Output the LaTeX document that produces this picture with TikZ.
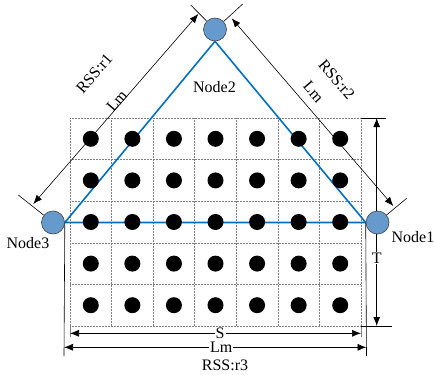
\documentclass[tikz,border=0pt]{standalone}
\usepackage{fontspec}
\setmainfont{Liberation Serif}
\usetikzlibrary{arrows.meta,backgrounds}
\definecolor{nodefill}{RGB}{102,153,204}
\definecolor{nodeedge}{RGB}{70,70,70}
\definecolor{triblue}{RGB}{0,112,192}
\begin{document}
\begin{tikzpicture}[x=1pt,y=-1pt,
  sensor/.style={circle, draw=nodeedge, fill=nodefill, line width=0.6pt, minimum size=23pt, inner sep=0pt},
  lbl/.style={font=\fontsize{16}{19}\selectfont, inner sep=1pt},
  gridline/.style={gray, densely dotted, line width=0.5pt},
  dotnode/.style={circle, fill=black, minimum size=16pt, inner sep=0pt},
  dim/.style={{Latex[length=9pt,width=7pt]}-{Latex[length=9pt,width=7pt]}, line width=0.7pt},
  ext/.style={line width=0.6pt},
  tri/.style={draw=triblue, line width=1.6pt, line join=miter}
]
\useasboundingbox (0,0) rectangle (434,375);

% sensor nodes
\node[sensor] (n1) at (377.5,222.5) {};
\node[sensor] (n2) at (215,29.5) {};
\node[sensor] (n3) at (53,222.5) {};
\node[lbl] (t1) at (413,237) {Node1};
\node[lbl] (t2) at (214.5,87) {Node2};
\node[lbl] (t3) at (28,243) {Node3};

% named points
\coordinate (gTL) at (70,118);
\coordinate (gTR) at (361,118);
\coordinate (gBL) at (70,326);
\coordinate (gBR) at (361,326);
\coordinate (gBLs) at (70,337);
\coordinate (gBRs) at (361,337);
\coordinate (l3b) at (64,356);
\coordinate (l1b) at (366.5,356);
\coordinate (lmL) at (64,347.3);
\coordinate (lmR) at (366.5,347.3);
\coordinate (sL) at (70,333.3);
\coordinate (sR) at (361,333.3);
\coordinate (tT) at (376.7,118);
\coordinate (tB) at (376.7,326);
\coordinate (tTe) at (386,118);
\coordinate (tBe) at (392,326);
\coordinate (a1) at (33.3,204);
\coordinate (a2) at (198.3,14);
\coordinate (b1) at (231.7,18.3);
\coordinate (b2) at (393.3,206);
\coordinate (e3) at (18.3,195);
\coordinate (e2l) at (190.7,5);
\coordinate (e2r) at (242.7,4);
\coordinate (e1) at (406.7,198.3);

\begin{scope}[on background layer]
  % grid
  \foreach \i in {0,...,7}
    \draw[gridline] ({70+\i*41.5714},118) -- ({70+\i*41.5714},326);
  \foreach \j in {0,...,5}
    \draw[gridline] (70,{118+\j*41.6}) -- (361,{118+\j*41.6});
  % triangle
  \draw[tri] (n3.east) -- (n2.south) -- (n1.west) -- cycle;
  % dots
  \foreach \i in {0,...,6}
    \foreach \j in {0,...,4}
      \node[dotnode] (d\i\j) at ({90.79+\i*41.5714},{138.8+\j*41.6}) {};
  % extension lines
  \draw[ext] (n3.east) -- (l3b);
  \draw[ext] (n1.west) -- (l1b);
  \draw[ext, gray] (gBL) -- (gBLs);
  \draw[ext, gray] (gBR) -- (gBRs);
  \draw[ext] (gTR) -- (tTe);
  \draw[ext] (gBR) -- (tBe);
  \draw[ext] (e3) -- (n3);
  \draw[ext] (e2l) -- (n2);
  \draw[ext] (e2r) -- (n2);
  \draw[ext] (e1) -- (n1);
  % dimension arrows
  \draw[dim] (lmL) -- (lmR) node[lbl, pos=0.52, fill=white] (lmlab) {Lm};
  \draw[dim] (sL) -- (sR) node[lbl, pos=0.516, fill=white] (slab) {S};
  \draw[dim, line width=0.9pt] (tT) -- (tB) node[lbl, pos=0.673, fill=white] (tlab) {T};
  \draw[dim, line width=0.6pt] (a1) -- (a2);
  \draw[dim, line width=0.6pt] (b1) -- (b2);
\end{scope}

\node[lbl] (r3) at (225,365) {RSS:r3};
\node[lbl, rotate=49] (lm1) at (116.7,101) {Lm};
\node[lbl, rotate=49] (r1) at (94.3,73.3) {RSS:r1};
\node[lbl, rotate=-49.3] (lm2) at (313.5,91.7) {Lm};
\node[lbl, rotate=-49.3] (r2) at (336.7,80) {RSS:r2};
\end{tikzpicture}
\end{document}
